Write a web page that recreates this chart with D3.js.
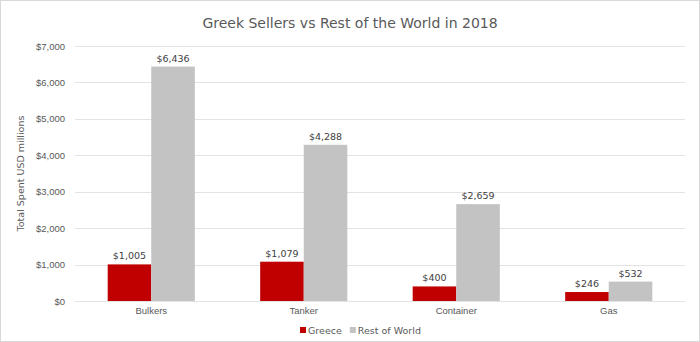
<!DOCTYPE html>
<html>
<head>
<meta charset="utf-8">
<script src="https://cdn.jsdelivr.net/npm/d3@7/dist/d3.min.js"></script>
<style>
  html, body { margin: 0; padding: 0; background: #fff; }
  svg { display: block; font-family: "DejaVu Sans", Verdana, sans-serif; }
</style>
</head>
<body>
<svg id="chart" width="700" height="342"></svg>
<script>
const categories = ["Bulkers", "Tanker", "Container", "Gas"];
const seriesNames = ["Greece", "Rest of World"];
const greece = [1005, 1079, 400, 246];
const restOfWorld = [6436, 4288, 2659, 532];
const yTicks = [0, 1000, 2000, 3000, 4000, 5000, 6000, 7000];
const colors = ["#c00000", "#c3c3c3"];

const svg = d3.select("#chart");
const W = 700, H = 342;
const m = { left: 75, right: 15, top: 46, bottom: 41 };

// chart frame
svg.append("rect").attr("x", 0.5).attr("y", 0.5).attr("width", W - 1).attr("height", H - 1)
  .attr("fill", "#fff").attr("stroke", "#d9d9d9");

const x = d3.scaleBand().domain(categories).range([m.left, W - m.right]).paddingInner(0).paddingOuter(0);
const y = d3.scaleLinear().domain([0, 7000]).range([H - m.bottom, m.top]);
const inner = d3.scaleBand().domain(seriesNames).range([0, x.bandwidth()]).paddingInner(0).paddingOuter(0.75);

// gridlines
svg.append("g").selectAll("line").data(yTicks).join("line")
  .attr("x1", m.left).attr("x2", W - m.right)
  .attr("y1", d => Math.round(y(d)) + 0.5).attr("y2", d => Math.round(y(d)) + 0.5)
  .attr("stroke", "#e3e3e3").attr("stroke-width", 1);

// y axis labels
const fmt = d => "$" + d3.format(",")(d);
const yAxis = d3.axisLeft(y).tickValues(yTicks).tickFormat(fmt).tickSize(0).tickPadding(10);
const yg = svg.append("g").attr("transform", `translate(${m.left},0)`).call(yAxis);
yg.select(".domain").remove();
yg.selectAll("text").attr("fill", "#595959").attr("font-size", "9.5px");

// x axis labels
const xAxis = d3.axisBottom(x).tickSize(0).tickPadding(6);
const xg = svg.append("g").attr("transform", `translate(0,${H - m.bottom})`).call(xAxis);
xg.select(".domain").remove();
xg.selectAll("text").attr("fill", "#595959").attr("font-size", "9.5px");

// bars
const rows = categories.map((c, i) => ({ cat: c, vals: [greece[i], restOfWorld[i]] }));
const groups = svg.append("g").selectAll("g").data(rows).join("g")
  .attr("transform", d => `translate(${x(d.cat)},0)`);

groups.selectAll("rect").data(d => d.vals.map((v, j) => ({ s: seriesNames[j], v, j }))).join("rect")
  .attr("x", d => inner(d.s))
  .attr("width", inner.bandwidth())
  .attr("y", d => y(d.v))
  .attr("height", d => y(0) - y(d.v))
  .attr("fill", d => colors[d.j]);

groups.selectAll("text.val").data(d => d.vals.map((v, j) => ({ s: seriesNames[j], v, j }))).join("text")
  .attr("class", "val")
  .attr("x", d => inner(d.s) + inner.bandwidth() / 2)
  .attr("y", d => y(d.v) - 5)
  .attr("text-anchor", "middle")
  .attr("fill", "#404040").attr("font-size", "9.5px")
  .text(d => fmt(d.v));

// title
svg.append("text").attr("x", 350).attr("y", 28).attr("text-anchor", "middle")
  .attr("fill", "#595959").attr("font-size", "14px")
  .text("Greek Sellers vs Rest of the World in 2018");

// y axis title
svg.append("text")
  .attr("transform", `translate(24,${(m.top + H - m.bottom) / 2}) rotate(-90)`)
  .attr("text-anchor", "middle").attr("fill", "#595959").attr("font-size", "9.5px")
  .text("Total Spent USD millions");

// legend
const legend = svg.append("g").attr("transform", "translate(300,334)");
let lx = 0;
seriesNames.forEach((name, i) => {
  legend.append("rect").attr("x", lx).attr("y", -7).attr("width", 6).attr("height", 6).attr("fill", colors[i]);
  const t = legend.append("text").attr("x", lx + 8).attr("y", 0)
    .attr("fill", "#595959").attr("font-size", "9.5px").text(name);
  lx += 8 + t.node().getComputedTextLength() + 8;
});
</script>
</body>
</html>
